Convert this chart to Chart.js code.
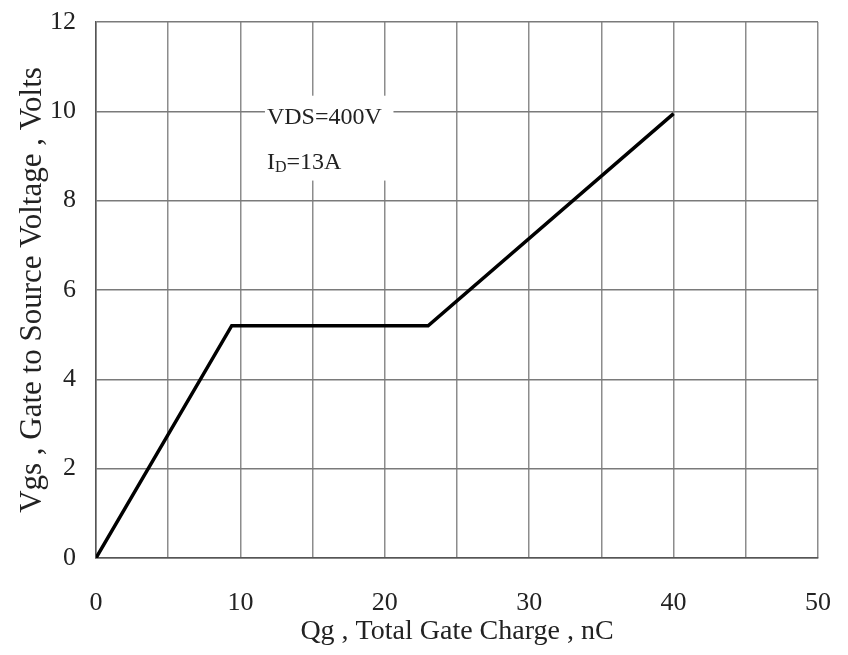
<!DOCTYPE html>
<html>
<head>
<meta charset="utf-8">
<script src="https://cdn.jsdelivr.net/npm/chart.js@4.4.1/dist/chart.umd.min.js"></script>
<style>
  html, body { margin: 0; padding: 0; background: #fff; }
  #wrap { width: 848px; height: 655px; }
</style>
</head>
<body>
<div id="wrap"><canvas id="gateCharge"></canvas></div>
<script>
// gate charge curve
const chargeNC = [0, 9.4, 23, 40];
const vgsVolts = [0, 5.2, 5.2, 9.95];
const xTickStep = 5;
const yTickStep = 2;
const noteLine1 = "VDS=400V";
const noteLine2 = ["I", "D", "=13A"];

const serif = "'Liberation Serif', 'Times New Roman', serif";

const notePlugin = {
  id: "note",
  beforeDatasetsDraw(chart) {
    const { ctx, scales } = chart;
    const x0 = scales.x.getPixelForValue(11.7);
    const y0 = scales.y.getPixelForValue(10.35);
    const x1 = scales.x.getPixelForValue(20.6);
    const y1 = scales.y.getPixelForValue(8.45);
    ctx.save();
    ctx.fillStyle = "#fff";
    ctx.fillRect(x0, y0, x1 - x0, y1 - y0);
    ctx.fillStyle = "#222";
    ctx.textBaseline = "alphabetic";
    ctx.font = "24px " + serif;
    ctx.fillText(noteLine1, x0 + 2, y0 + 28);
    let x = x0 + 2;
    const base2 = y0 + 73;
    ctx.fillText(noteLine2[0], x, base2);
    x += ctx.measureText(noteLine2[0]).width;
    ctx.font = "16px " + serif;
    ctx.fillText(noteLine2[1], x, base2 + 3);
    x += ctx.measureText(noteLine2[1]).width;
    ctx.font = "24px " + serif;
    ctx.fillText(noteLine2[2], x, base2);
    ctx.restore();
  }
};

new Chart(document.getElementById("gateCharge"), {
  type: "scatter",
  data: {
    datasets: [
      {
        label: "Vgs",
        data: chargeNC.map((q, i) => ({ x: q, y: vgsVolts[i] })),
        showLine: true,
        borderColor: "#000",
        borderWidth: 3.5,
        pointRadius: 0,
        tension: 0,
      },
    ],
  },
  options: {
    responsive: true,
    maintainAspectRatio: false,
    animation: false,
    layout: { padding: { top: 22, right: 30, left: 0, bottom: 0 } },
    plugins: { legend: { display: false }, tooltip: { enabled: false } },
    scales: {
      x: {
        type: "linear",
        min: 0,
        max: 50,
        afterFit(s) {
          s.height = 97;
          s.paddingLeft = 0;
          s.paddingRight = 0;
        },
        border: { color: "#555", width: 1.5 },
        grid: { color: "#8c8c8c", lineWidth: 1.5, drawTicks: false },
        ticks: {
          stepSize: xTickStep,
          autoSkip: false,
          maxRotation: 0,
          padding: 30,
          color: "#222",
          font: { family: serif, size: 26 },
          callback: (v) => (v % 10 === 0 ? v : ""),
        },
        title: {
          display: true,
          text: "Qg , Total Gate Charge , nC",
          color: "#222",
          font: { family: serif, size: 28, lineHeight: 1 },
          padding: { top: 0, bottom: 9 },
        },
      },
      y: {
        min: 0,
        max: 12,
        afterFit(s) {
          s.width = 96;
          s.paddingTop = 0;
          s.paddingBottom = 0;
        },
        border: { color: "#555", width: 1.5 },
        grid: { color: "#7a7a7a", lineWidth: 1.5, drawTicks: false },
        ticks: {
          stepSize: yTickStep,
          padding: 20,
          color: "#222",
          font: { family: serif, size: 26 },
        },
        title: {
          display: true,
          text: "Vgs , Gate to Source Voltage , Volts",
          color: "#222",
          font: { family: serif, size: 31, lineHeight: 1 },
          padding: { top: 17, bottom: 0 },
        },
      },
    },
  },
  plugins: [notePlugin],
});
</script>
</body>
</html>
